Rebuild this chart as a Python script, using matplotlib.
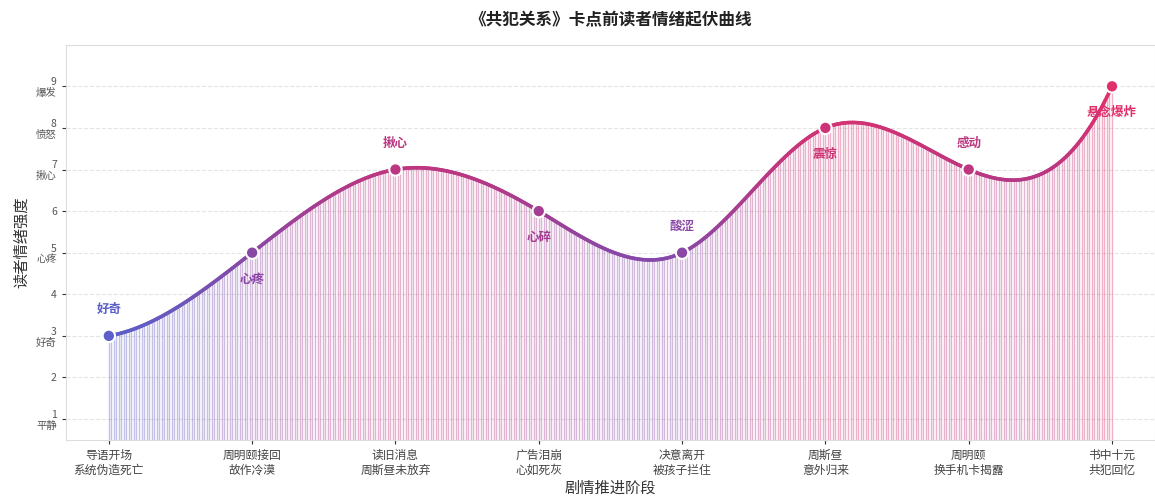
import numpy as np
import matplotlib.pyplot as plt
from matplotlib.colors import LinearSegmentedColormap, Normalize

plt.rcParams['font.family'] = ['Noto Sans CJK SC', 'DejaVu Sans']

# data
stages = ['导语开场\n系统伪造死亡', '周明颐接回\n故作冷漠', '读旧消息\n周斯昼未放弃', '广告泪崩\n心如死灰',
          '决意离开\n被孩子拦住', '周斯昼\n意外归来', '周明颐\n换手机卡揭露', '书中十元\n共犯回忆']
intensity = [3, 5, 7, 6, 5, 8, 7, 9]
emotions = ['好奇', '心疼', '揪心', '心碎', '酸涩', '震惊', '感动', '悬念爆炸']
label_side = [1, -1, 1, -1, 1, -1, 1, -1]  # 1 above, -1 below
ytick_vals = [1, 2, 3, 4, 5, 6, 7, 8, 9]
ytick_words = ['平静', '', '好奇', '', '心疼', '', '揪心', '愤怒', '爆发']


def spline(x, y, xs):
    # cubic spline with not-a-knot ends
    x = np.asarray(x, float)
    y = np.asarray(y, float)
    n = len(x)
    h = np.diff(x)
    A = np.zeros((n, n))
    b = np.zeros(n)
    A[0, :3] = [-h[1], h[0] + h[1], -h[0]]
    A[-1, -3:] = [-h[-1], h[-2] + h[-1], -h[-2]]
    for i in range(1, n - 1):
        A[i, i - 1] = h[i - 1]
        A[i, i] = 2 * (h[i - 1] + h[i])
        A[i, i + 1] = h[i]
        b[i] = 3 * ((y[i + 1] - y[i]) / h[i] - (y[i] - y[i - 1]) / h[i - 1])
    c = np.linalg.solve(A, b)
    out = np.empty_like(xs)
    for k, xv in enumerate(xs):
        i = min(max(np.searchsorted(x, xv, side='right') - 1, 0), n - 2)
        dx = xv - x[i]
        bb = (y[i + 1] - y[i]) / h[i] - h[i] * (2 * c[i] + c[i + 1]) / 3
        dd = (c[i + 1] - c[i]) / (3 * h[i])
        out[k] = y[i] + bb * dx + c[i] * dx ** 2 + dd * dx ** 3
    return out


x = np.arange(len(intensity))
xs = np.linspace(0, len(intensity) - 1, 600)
ys = spline(x, intensity, xs)

cmap = LinearSegmentedColormap.from_list('emo', ['#5b5fc7', '#8a47a6', '#bd3680', '#e0306a'])
norm = Normalize(3, 9)

fig = plt.figure(figsize=(11.55, 4.97), dpi=100)
ax = fig.add_axes([0.057, 0.115, 0.943, 0.795])

# gradient fill made of thin vertical lines
xf = np.linspace(0, len(intensity) - 1, 400)
yf = spline(x, intensity, xf)
ax.vlines(xf, 0.5, yf, colors=cmap(norm(yf)), alpha=0.38, lw=1.0, zorder=1)

# gradient line
for i in range(len(xs) - 1):
    ax.plot(xs[i:i + 2], ys[i:i + 2], color=cmap(norm((ys[i] + ys[i + 1]) / 2)),
            lw=2.6, solid_capstyle='round', zorder=3)

ax.scatter(x, intensity, s=80, c=cmap(norm(np.array(intensity, float))),
           edgecolors='white', linewidths=1.5, zorder=5)

for xi, yi, lab, side in zip(x, intensity, emotions, label_side):
    ax.annotate(lab, (xi, yi), xytext=(0, 19 * side), textcoords='offset points',
                ha='center', va='center', fontsize=9, fontweight='bold',
                color=cmap(norm(yi)), zorder=6)

ax.set_xlim(-0.3, 7.3)
ax.set_ylim(0.5, 10)
ax.set_xticks(x)
ax.set_xticklabels(stages, fontsize=8.5, color='#444444')
ax.set_yticks(ytick_vals)
ax.set_yticklabels([f'{v}\n{w}' if w else str(v) for v, w in zip(ytick_vals, ytick_words)],
                   fontsize=7.5, color='#555555', linespacing=1.1)
ax.tick_params(axis='both', length=3, width=0.8, color='#333333')
ax.grid(axis='y', ls='--', color='#e4e4e4', lw=0.8)
ax.set_axisbelow(True)
for s in ax.spines.values():
    s.set_color('#dddddd')

ax.set_xlabel('剧情推进阶段', fontsize=11, color='#333333', labelpad=2)
ax.set_ylabel('读者情绪强度', fontsize=11, color='#333333')
ax.set_title('《共犯关系》卡点前读者情绪起伏曲线', fontsize=12, fontweight='heavy', color='#222222', pad=14)

fig.savefig('out.png', dpi=100)
